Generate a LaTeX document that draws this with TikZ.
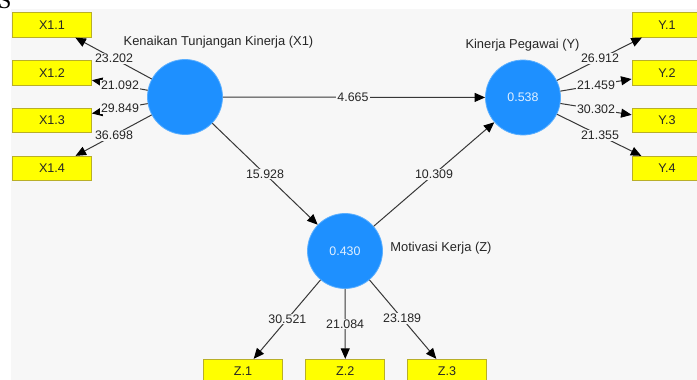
\documentclass[tikz,border=0pt]{standalone}
\usepackage{fontspec}
\setmainfont{Liberation Sans}
\newfontfamily\serifS{Liberation Serif}
\usetikzlibrary{arrows.meta,calc}
\definecolor{bggray}{RGB}{247,247,247}
\definecolor{lvblue}{RGB}{30,144,255}
\definecolor{lvedge}{RGB}{90,175,255}
\definecolor{indyellow}{RGB}{255,255,0}
\definecolor{indedge}{RGB}{185,175,40}
\definecolor{linegray}{RGB}{55,55,55}
\definecolor{valtext}{RGB}{225,240,255}
\tikzset{
  latent/.style={circle, fill=lvblue, draw=lvedge, line width=0.8pt, minimum size=75pt, inner sep=0pt,
                 text=valtext, font=\fontsize{12.4}{14}\selectfont},
  indbox/.style={rectangle, fill=indyellow, draw=indedge, line width=0.8pt, minimum width=79pt, minimum height=24.5pt,
                 inner sep=0pt, font=\fontsize{12.6}{14}\selectfont, text=black!85},
  ybox/.style={indbox, minimum width=70pt},
  conn/.style={draw=linegray, line width=1pt, -{Triangle[length=10.5pt,width=9pt,color=black]}},
  lbl/.style={fill=bggray, inner sep=1pt, font=\fontsize{12.4}{14}\selectfont, text=black!85},
  lvname/.style={font=\fontsize{12.9}{14}\selectfont, text=black!85, inner sep=0pt}
}
\begin{document}
\begin{tikzpicture}[x=1pt,y=-1pt]
\useasboundingbox (0,0) rectangle (697,380);
\fill[white] (0,0) rectangle (697,380);
\fill[bggray] (11,9) rectangle (697,380);
\begin{scope}
\clip (0,0) rectangle (697,380);
\node[font=\serifS\fontsize{24}{24}\selectfont, anchor=base west, inner sep=0pt] (cutS) at (-2,9) {S};

% latent variables
\node[latent] (X1) at (185,97) {};
\node[latent] (Y) at (523,97.5) {0.538};
\node[latent] (Z) at (345,251) {0.430};

% indicators
\node[indbox] (x11) at (52,25) {X1.1};
\node[indbox] (x12) at (52,73) {X1.2};
\node[indbox] (x13) at (52,120.5) {X1.3};
\node[indbox] (x14) at (52,168.5) {X1.4};
\node[ybox] (y1) at (667,25) {Y.1};
\node[ybox] (y2) at (667,73) {Y.2};
\node[ybox] (y3) at (667,120.5) {Y.3};
\node[ybox] (y4) at (667,168.5) {Y.4};
\node[indbox] (z1) at (243,371.5) {Z.1};
\node[indbox] (z2) at (345.3,371.5) {Z.2};
\node[indbox] (z3) at (447,371.5) {Z.3};

% names
\node[lvname] (nX1) at (218.5,42) {Kenaikan Tunjangan Kinerja (X1)};
\node[lvname] (nY) at (522.5,45) {Kinerja Pegawai (Y)};
\node[lvname] (nZ) at (441,248) {Motivasi Kerja (Z)};

% connectors
\draw[conn] (X1) -- (x11);
\draw[conn] (X1) -- (x12);
\draw[conn] (X1) -- (x13);
\draw[conn] (X1) -- (x14);
\draw[conn] (Y) -- (y1);
\draw[conn] (Y) -- (y2);
\draw[conn] (Y) -- (y3);
\draw[conn] (Y) -- (y4);
\draw[conn] (Z) -- (z1);
\draw[conn] (Z) -- (z2);
\draw[conn] (Z) -- (z3);
\draw[conn] (X1) -- (Y);
\draw[conn] (X1) -- (Z);
\draw[conn] (Z) -- (Y);

% labels
\node[lbl] (l11) at ($(X1)!0.534!(x11)$) {23.202};
\node[lbl] (l12) at ($(X1)!0.489!(x12)$) {21.092};
\node[lbl] (l13) at ($(X1)!0.489!(x13)$) {29.849};
\node[lbl] (l14) at ($(X1)!0.534!(x14)$) {36.698};
\node[lbl] (ly1) at ($(Y)!0.535!(y1)$) {26.912};
\node[lbl] (ly2) at ($(Y)!0.507!(y2)$) {21.459};
\node[lbl] (ly3) at ($(Y)!0.507!(y3)$) {30.302};
\node[lbl] (ly4) at ($(Y)!0.535!(y4)$) {21.355};
\node[lbl] (lz1) at ($(Z)!0.565!(z1)$) {30.521};
\node[lbl] (lz2) at ($(Z)!0.606!(z2)$) {21.084};
\node[lbl] (lz3) at ($(Z)!0.56!(z3)$) {23.189};
\node[lbl] (lxy) at ($(X1)!0.497!(Y)$) {4.665};
\node[lbl] (lxz) at ($(X1)!0.5!(Z)$) {15.928};
\node[lbl] (lzy) at ($(Z)!0.5!(Y)$) {10.309};
\end{scope}
\end{tikzpicture}
\end{document}
